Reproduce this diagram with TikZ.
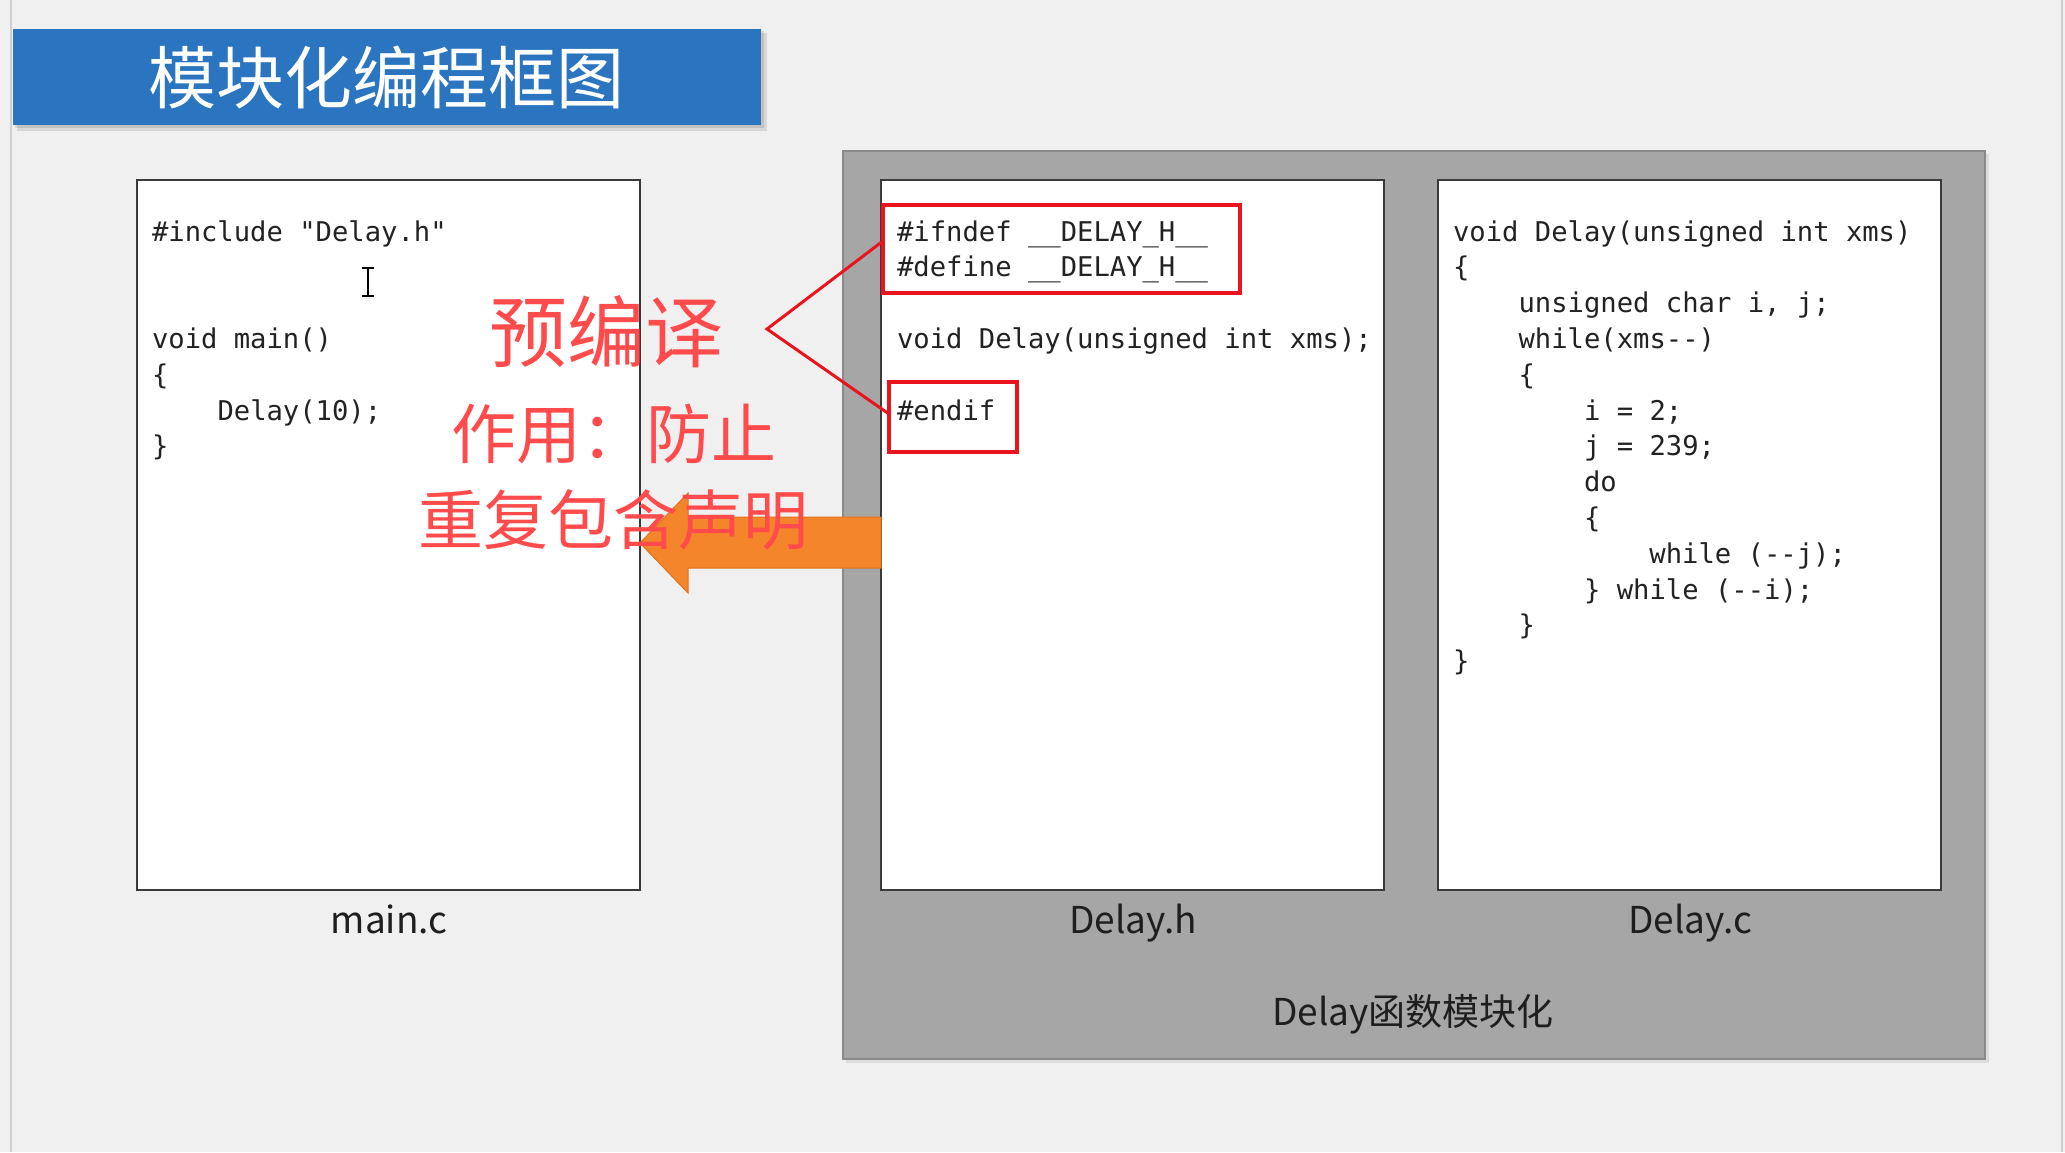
\documentclass[tikz,border=0pt]{standalone}
\usepackage{fontspec}
\setmainfont{Noto Sans CJK SC}
\setmonofont{DejaVu Sans Mono}
\newfontfamily\cjk{Noto Sans CJK SC}
\definecolor{bg}{HTML}{F0F0F0}
\definecolor{winline}{HTML}{CFCFCF}
\definecolor{titleblue}{HTML}{2B74BF}
\definecolor{panelgray}{HTML}{A6A6A6}
\definecolor{panelborder}{HTML}{8A8A8A}
\definecolor{boxborder}{HTML}{3A3A3A}
\definecolor{codetext}{HTML}{222222}
\definecolor{hlred}{HTML}{E8141E}
\definecolor{notered}{HTML}{FF4B4B}
\definecolor{arroworange}{HTML}{F5852B}
\definecolor{arrowedge}{HTML}{E0731C}
\definecolor{labeltext}{HTML}{1E1E1E}
\begin{document}
\begin{tikzpicture}[x=1pt,y=-1pt,
  codebox/.style={draw=boxborder, line width=2pt, fill=white, inner sep=0pt, outer sep=0pt, minimum width=503pt, minimum height=710pt},
  code/.style={font=\ttfamily\fontsize{27.2}{30}\selectfont, text=codetext, anchor=base west, inner sep=0pt, outer sep=0pt},
  redbox/.style={draw=hlred, line width=4pt, inner sep=0pt, outer sep=0pt},
  redline/.style={draw=hlred, line width=3pt},
  redtext/.style={text=notered, anchor=base, inner sep=0pt},
  lbl/.style={font=\cjk\fontsize{37}{40}\selectfont, text=labeltext, anchor=base, inner sep=0pt},
  bigarrow/.style={fill=arroworange, draw=arrowedge, line width=1pt, line join=miter}
]
\useasboundingbox (0,0) rectangle (2065,1152);
\fill[bg] (0,0) rectangle (2065,1152);
% window edges
\draw[winline, line width=2pt] (11,0) -- (11,1152);
\draw[winline, line width=2pt] (2062,0) -- (2062,1152);

% title bar
\fill[black, opacity=0.10] (17,33) rectangle (767,131);
\fill[black, opacity=0.10] (15,31) rectangle (764,128);
\node[fill=titleblue, minimum width=748pt, minimum height=96pt, inner sep=0pt, outer sep=0pt] (title) at (387,77) {};
\node[text=white, font=\cjk\fontsize{68}{70}\selectfont, anchor=base, inner sep=0pt] (titletext) at (386,103) {模块化编程框图};

% gray panel
\fill[black, opacity=0.08] (846,154) rectangle (1989,1063);
\node[fill=panelgray, draw=panelborder, line width=2pt, minimum width=1142pt, minimum height=908pt, inner sep=0pt, outer sep=0pt] (panel) at (1414,605) {};

% boxes
\node[codebox] (mainbox) at (388.5,535) {};
\node[codebox] (hbox) at (1132.5,535) {};
\node[codebox] (cbox) at (1689.5,535) {};

% main.c code
\node[code] (m0) at (152,241) {\#include "Delay.h"};
\node[code] (m3) at (152,348.4) {void main()};
\node[code] (m4) at (152,384.2) {\{};
\node[code] (m5) at (217.5,420) {Delay(10);};
\node[code] (m6) at (152,455.8) {\}};

% I-beam cursor
\draw[black, line width=1.6pt] (368,268) -- (368,296) (362,268) -- (374,268) (362,296) -- (374,296);

% Delay.h code
\node[code] (h0) at (897,241) {\#ifndef \_\_DELAY\_H\_\_};
\node[code] (h1) at (897,276.8) {\#define \_\_DELAY\_H\_\_};
\node[code] (h3) at (897,348.4) {void Delay(unsigned int xms);};
\node[code] (h5) at (897,420) {\#endif};

% Delay.c code
\node[code] (c0) at (1453,241) {void Delay(unsigned int xms)};
\node[code] (c1) at (1453,276.8) {\{};
\node[code] (c2) at (1518.5,312.6) {unsigned char i, j;};
\node[code] (c3) at (1518.5,348.4) {while(xms--)};
\node[code] (c4) at (1518.5,384.2) {\{};
\node[code] (c5) at (1584,420) {i = 2;};
\node[code] (c6) at (1584,455.8) {j = 239;};
\node[code] (c7) at (1584,491.6) {do};
\node[code] (c8) at (1584,527.4) {\{};
\node[code] (c9) at (1649.4,563.2) {while (--j);};
\node[code] (c10) at (1584,599) {\} while (--i);};
\node[code] (c11) at (1518.5,634.8) {\}};
\node[code] (c12) at (1453,670.6) {\}};

% labels
\node[lbl] (lmain) at (389,933) {main.c};
\node[lbl] (lh) at (1133,933) {Delay.h};
\node[lbl] (lc) at (1690,933) {Delay.c};
\node[lbl] (lpanel) at (1413,1025) {Delay函数模块化};

% red highlight boxes
\node[redbox, minimum width=357pt, minimum height=88pt] (rb1) at (1061.5,249) {};
\node[redbox, minimum width=128pt, minimum height=70pt] (rb2) at (953,417) {};
\coordinate (apex) at (767,329);
\draw[redline, line join=miter] ([yshift=8pt]rb1.west) -- (apex) -- ([yshift=3pt]rb2.west);

% orange arrow from Delay.h to main.c
\draw[bigarrow] (mainbox.east |- 0,543) -- ++(48,-50) -- ++(0,24) -- (hbox.west |- 0,517) -- (hbox.west |- 0,568) -- (688,568) -- ++(0,25) -- cycle;

% red notes
\node[redtext, font=\cjk\fontsize{78}{80}\selectfont] (n1) at (606,361) {预编译};
\node[redtext, font=\cjk\fontsize{65}{68}\selectfont] (n2) at (614,458) {作用：防止};
\node[redtext, font=\cjk\fontsize{65}{68}\selectfont] (n3) at (613,544) {重复包含声明};
\end{tikzpicture}
\end{document}
